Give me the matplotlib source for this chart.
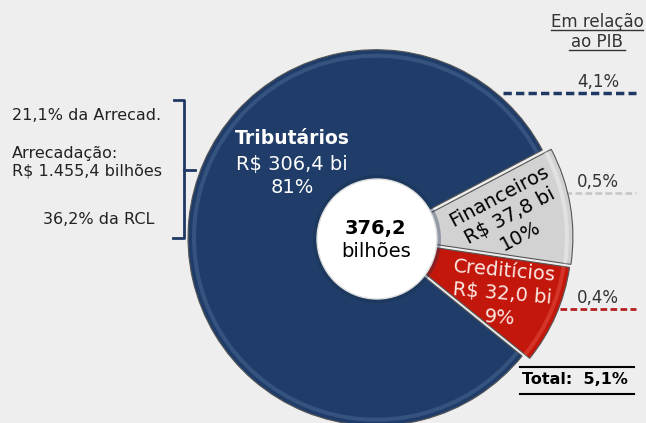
import matplotlib
matplotlib.use('Agg')
import matplotlib.pyplot as plt
from matplotlib.patches import Circle

# Dados do gráfico
categorias = ['Tributários', 'Financeiros', 'Creditícios']
valores = [306.4, 37.8, 32.0]          # R$ bilhões
percentuais = ['81%', '10%', '9%']
pib = ['4,1%', '0,5%', '0,4%']
total_pib = '5,1%'
total_bi = '376,2'
notas_esq = ['21,1% da Arrecad.', 'Arrecadação:\nR$ 1.455,4 bilhões', '36,2% da RCL']

cores = ['#1f3d68', '#d2d2d2', '#c4170c']
cores_claras = ['#4f6f9a', '#f4f4f4', '#e8564a']
cores_texto = ['white', 'black', '#fbe9e4']
cores_traco = ['#1f3864', '#c8c8c8', '#b42020']

W, H = 646, 423
fundo = '#eeeeee'

fig = plt.figure(figsize=(W / 100, H / 100), dpi=100, facecolor=fundo)
ax = fig.add_axes([0, 0, 1, 1])
ax.set_facecolor(fundo)


def Y(py):
    # converte coordenada de pixel (de cima para baixo) para o eixo
    return H - py


def rotulo(i):
    return f'R$ {valores[i]:.1f} bi'.replace('.', ',')


cx, cy, R = 379, 238, 188

ax.pie(valores, colors=cores, startangle=-39, counterclock=False,
       center=(cx, Y(cy)), radius=R, explode=[3, 6, 5],
       wedgeprops=dict(edgecolor='#555555', linewidth=0.8))
# brilho da borda (efeito de relevo)
ax.pie(valores, colors=cores_claras, startangle=-39, counterclock=False,
       center=(cx, Y(cy)), radius=R - 4, explode=[3, 6, 5],
       wedgeprops=dict(width=4, linewidth=0, alpha=0.45))

# furo central
ax.add_patch(Circle((377, Y(239)), 64, facecolor='#1a2f4f', alpha=0.35, zorder=5))
ax.add_patch(Circle((377, Y(239)), 60, facecolor='white', edgecolor='#dddddd',
                    linewidth=1, zorder=6))
ax.text(376, Y(228), total_bi, ha='center', va='center', fontsize=14,
        fontweight='bold', color='black', zorder=7)
ax.text(376, Y(251), 'bilhões', ha='center', va='center', fontsize=14,
        color='black', zorder=7)

# rótulos das fatias
ax.text(292, Y(138), categorias[0], ha='center', va='center', fontsize=13.5,
        fontweight='bold', color=cores_texto[0])
ax.text(292, Y(176), f'{rotulo(0)}\n{percentuais[0]}',
        ha='center', va='center', fontsize=14, color=cores_texto[0],
        linespacing=1.3)
ax.text(510, Y(216), f'{categorias[1]}\n{rotulo(1)}\n{percentuais[1]}',
        ha='center', va='center', fontsize=14, color=cores_texto[1],
        rotation=28, rotation_mode='anchor', linespacing=1.25)
ax.text(502, Y(294), f'{categorias[2]}\n{rotulo(2)}\n{percentuais[2]}',
        ha='center', va='center', fontsize=14, color=cores_texto[2],
        rotation=-5, rotation_mode='anchor', linespacing=1.3)

# notas à esquerda e colchete
ax.text(12, Y(115), notas_esq[0], ha='left', va='center', fontsize=11.5, color='#222222')
ax.text(12, Y(162), notas_esq[1], ha='left', va='center', fontsize=11.5, color='#222222',
        linespacing=1.25)
ax.text(99, Y(219), notas_esq[2], ha='center', va='center', fontsize=11.5, color='#222222')
ax.plot([174, 184, 184, 173], [Y(100), Y(100), Y(238), Y(238)], color='#1f3864', lw=2,
        solid_joinstyle='round')
ax.plot([184, 195], [Y(170), Y(170)], color='#1f3864', lw=2)

# coluna "Em relação ao PIB"
ax.text(597, Y(22), 'Em relação', ha='center', va='center', fontsize=12, color='#333333')
ax.text(597, Y(42), 'ao PIB', ha='center', va='center', fontsize=12, color='#333333')
ax.plot([551, 643], [Y(30), Y(30)], color='#333333', lw=1)
ax.plot([569, 625], [Y(50), Y(50)], color='#333333', lw=1)

linhas_y = [93, 193, 309]
inicio_x = [503, 565, 550]
larguras = [2.5, 2.0, 2.0]
for valor, ly, x0, cor, lw in zip(pib, linhas_y, inicio_x, cores_traco, larguras):
    ax.text(598, Y(ly - 11), valor, ha='center', va='center', fontsize=12, color='#333333')
    ax.plot([x0, 636], [Y(ly), Y(ly)], color=cor, lw=lw, linestyle=(0, (2.4, 1.2)),
            zorder=0.5)

ax.plot([520, 634], [Y(367), Y(367)], color='black', lw=1.5)
ax.plot([520, 634], [Y(394), Y(394)], color='black', lw=1.5)
ax.text(575, Y(379), f'Total:  {total_pib}', ha='center', va='center', fontsize=11.5,
        fontweight='bold', color='black')

ax.set_xlim(0, W)
ax.set_ylim(0, H)
ax.set_aspect('auto')
ax.axis('off')

plt.savefig('out.png', dpi=100, facecolor=fundo)
plt.close()
